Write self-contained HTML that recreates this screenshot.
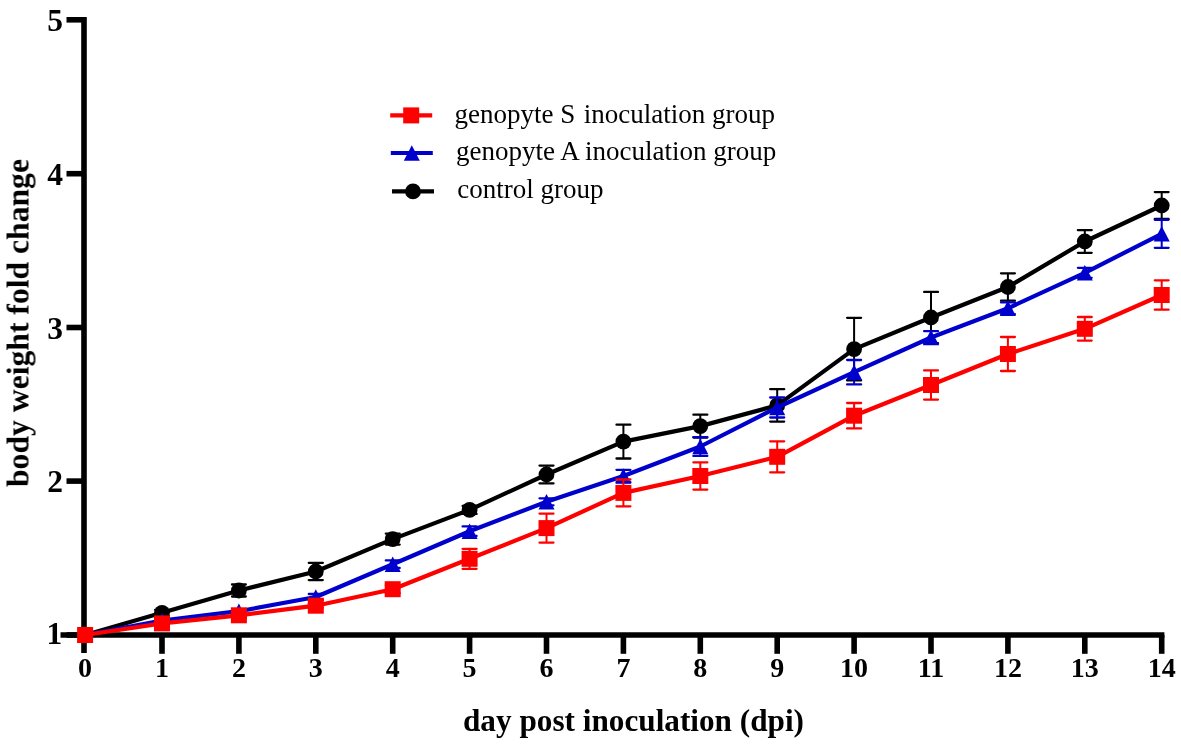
<!DOCTYPE html>
<html><head><meta charset="utf-8"><title>body weight fold change</title>
<style>
html,body{margin:0;padding:0;background:#fff;width:1181px;height:746px;overflow:hidden}
svg{display:block}
text{font-family:"Liberation Serif",serif}
.yl{font-weight:bold;font-size:31.5px}
.xl{font-weight:bold;font-size:28px}
.lg{font-size:27px}
.at{font-weight:bold;font-size:31.6px}
</style></head><body>
<svg width="1181" height="746" viewBox="0 0 1181 746">
<rect width="1181" height="746" fill="#fff"/>
<line x1="84" y1="17" x2="84" y2="653" stroke="#000" stroke-width="5.6"/>
<line x1="60.5" y1="635" x2="1164.4" y2="635" stroke="#000" stroke-width="5.6"/>
<line x1="66.5" y1="19.8" x2="84" y2="19.8" stroke="#000" stroke-width="5.6"/>
<line x1="66.5" y1="173.7" x2="84" y2="173.7" stroke="#000" stroke-width="5.6"/>
<line x1="66.5" y1="327.5" x2="84" y2="327.5" stroke="#000" stroke-width="5.6"/>
<line x1="66.5" y1="481.1" x2="84" y2="481.1" stroke="#000" stroke-width="5.6"/>
<line x1="66.5" y1="635" x2="84" y2="635" stroke="#000" stroke-width="5.6"/>
<line x1="162.0" y1="635" x2="162.0" y2="653.8" stroke="#000" stroke-width="5.6"/>
<line x1="238.9" y1="635" x2="238.9" y2="653.8" stroke="#000" stroke-width="5.6"/>
<line x1="315.8" y1="635" x2="315.8" y2="653.8" stroke="#000" stroke-width="5.6"/>
<line x1="392.7" y1="635" x2="392.7" y2="653.8" stroke="#000" stroke-width="5.6"/>
<line x1="469.6" y1="635" x2="469.6" y2="653.8" stroke="#000" stroke-width="5.6"/>
<line x1="546.5" y1="635" x2="546.5" y2="653.8" stroke="#000" stroke-width="5.6"/>
<line x1="623.4" y1="635" x2="623.4" y2="653.8" stroke="#000" stroke-width="5.6"/>
<line x1="700.3" y1="635" x2="700.3" y2="653.8" stroke="#000" stroke-width="5.6"/>
<line x1="777.2" y1="635" x2="777.2" y2="653.8" stroke="#000" stroke-width="5.6"/>
<line x1="854.1" y1="635" x2="854.1" y2="653.8" stroke="#000" stroke-width="5.6"/>
<line x1="931.0" y1="635" x2="931.0" y2="653.8" stroke="#000" stroke-width="5.6"/>
<line x1="1007.9" y1="635" x2="1007.9" y2="653.8" stroke="#000" stroke-width="5.6"/>
<line x1="1084.8" y1="635" x2="1084.8" y2="653.8" stroke="#000" stroke-width="5.6"/>
<line x1="1161.7" y1="635" x2="1161.7" y2="653.8" stroke="#000" stroke-width="5.6"/>
<line x1="162.0" y1="609.8" x2="162.0" y2="615.8" stroke="#000000" stroke-width="2.0"/>
<line x1="155.1" y1="609.8" x2="168.9" y2="609.8" stroke="#000000" stroke-width="2.3" stroke-linecap="round"/>
<line x1="155.1" y1="615.8" x2="168.9" y2="615.8" stroke="#000000" stroke-width="2.3" stroke-linecap="round"/>
<line x1="238.9" y1="584.5" x2="238.9" y2="596.5" stroke="#000000" stroke-width="2.0"/>
<line x1="232.0" y1="584.5" x2="245.8" y2="584.5" stroke="#000000" stroke-width="2.3" stroke-linecap="round"/>
<line x1="232.0" y1="596.5" x2="245.8" y2="596.5" stroke="#000000" stroke-width="2.3" stroke-linecap="round"/>
<line x1="315.8" y1="562.9" x2="315.8" y2="580.1" stroke="#000000" stroke-width="2.0"/>
<line x1="308.8" y1="562.9" x2="322.8" y2="562.9" stroke="#000000" stroke-width="2.3" stroke-linecap="round"/>
<line x1="308.8" y1="580.1" x2="322.8" y2="580.1" stroke="#000000" stroke-width="2.3" stroke-linecap="round"/>
<line x1="392.7" y1="533.6" x2="392.7" y2="544.6" stroke="#000000" stroke-width="2.0"/>
<line x1="385.8" y1="533.6" x2="399.7" y2="533.6" stroke="#000000" stroke-width="2.3" stroke-linecap="round"/>
<line x1="385.8" y1="544.6" x2="399.7" y2="544.6" stroke="#000000" stroke-width="2.3" stroke-linecap="round"/>
<line x1="469.6" y1="505.9" x2="469.6" y2="513.9" stroke="#000000" stroke-width="2.0"/>
<line x1="462.6" y1="505.9" x2="476.6" y2="505.9" stroke="#000000" stroke-width="2.3" stroke-linecap="round"/>
<line x1="462.6" y1="513.9" x2="476.6" y2="513.9" stroke="#000000" stroke-width="2.3" stroke-linecap="round"/>
<line x1="546.5" y1="465.6" x2="546.5" y2="483.4" stroke="#000000" stroke-width="2.0"/>
<line x1="539.5" y1="465.6" x2="553.5" y2="465.6" stroke="#000000" stroke-width="2.3" stroke-linecap="round"/>
<line x1="539.5" y1="483.4" x2="553.5" y2="483.4" stroke="#000000" stroke-width="2.3" stroke-linecap="round"/>
<line x1="623.4" y1="424.7" x2="623.4" y2="458.5" stroke="#000000" stroke-width="2.0"/>
<line x1="616.5" y1="424.7" x2="630.4" y2="424.7" stroke="#000000" stroke-width="2.3" stroke-linecap="round"/>
<line x1="616.5" y1="458.5" x2="630.4" y2="458.5" stroke="#000000" stroke-width="2.3" stroke-linecap="round"/>
<line x1="700.3" y1="414.7" x2="700.3" y2="437.5" stroke="#000000" stroke-width="2.0"/>
<line x1="693.4" y1="414.7" x2="707.3" y2="414.7" stroke="#000000" stroke-width="2.3" stroke-linecap="round"/>
<line x1="693.4" y1="437.5" x2="707.3" y2="437.5" stroke="#000000" stroke-width="2.3" stroke-linecap="round"/>
<line x1="777.2" y1="389.2" x2="777.2" y2="421.6" stroke="#000000" stroke-width="2.0"/>
<line x1="770.2" y1="389.2" x2="784.2" y2="389.2" stroke="#000000" stroke-width="2.3" stroke-linecap="round"/>
<line x1="770.2" y1="421.6" x2="784.2" y2="421.6" stroke="#000000" stroke-width="2.3" stroke-linecap="round"/>
<line x1="854.1" y1="317.8" x2="854.1" y2="380.4" stroke="#000000" stroke-width="2.0"/>
<line x1="847.1" y1="317.8" x2="861.1" y2="317.8" stroke="#000000" stroke-width="2.3" stroke-linecap="round"/>
<line x1="847.1" y1="380.4" x2="861.1" y2="380.4" stroke="#000000" stroke-width="2.3" stroke-linecap="round"/>
<line x1="931.0" y1="291.9" x2="931.0" y2="343.1" stroke="#000000" stroke-width="2.0"/>
<line x1="924.1" y1="291.9" x2="938.0" y2="291.9" stroke="#000000" stroke-width="2.3" stroke-linecap="round"/>
<line x1="924.1" y1="343.1" x2="938.0" y2="343.1" stroke="#000000" stroke-width="2.3" stroke-linecap="round"/>
<line x1="1007.9" y1="273.3" x2="1007.9" y2="300.7" stroke="#000000" stroke-width="2.0"/>
<line x1="1001.0" y1="273.3" x2="1014.9" y2="273.3" stroke="#000000" stroke-width="2.3" stroke-linecap="round"/>
<line x1="1001.0" y1="300.7" x2="1014.9" y2="300.7" stroke="#000000" stroke-width="2.3" stroke-linecap="round"/>
<line x1="1084.8" y1="230.2" x2="1084.8" y2="252.8" stroke="#000000" stroke-width="2.0"/>
<line x1="1077.9" y1="230.2" x2="1091.7" y2="230.2" stroke="#000000" stroke-width="2.3" stroke-linecap="round"/>
<line x1="1077.9" y1="252.8" x2="1091.7" y2="252.8" stroke="#000000" stroke-width="2.3" stroke-linecap="round"/>
<line x1="1161.7" y1="192.1" x2="1161.7" y2="218.9" stroke="#000000" stroke-width="2.0"/>
<line x1="1154.8" y1="192.1" x2="1168.6" y2="192.1" stroke="#000000" stroke-width="2.3" stroke-linecap="round"/>
<line x1="1154.8" y1="218.9" x2="1168.6" y2="218.9" stroke="#000000" stroke-width="2.3" stroke-linecap="round"/>
<polyline points="85.1,635.0 162.0,612.8 238.9,590.5 315.8,571.5 392.7,539.1 469.6,509.9 546.5,474.5 623.4,441.6 700.3,426.1 777.2,405.4 854.1,349.1 931.0,317.5 1007.9,287.0 1084.8,241.5 1161.7,205.5" fill="none" stroke="#000000" stroke-width="4.2" stroke-linejoin="round"/>
<circle cx="85.1" cy="635.0" r="7.9" fill="#000000"/>
<circle cx="162.0" cy="612.8" r="7.9" fill="#000000"/>
<circle cx="238.9" cy="590.5" r="7.9" fill="#000000"/>
<circle cx="315.8" cy="571.5" r="7.9" fill="#000000"/>
<circle cx="392.7" cy="539.1" r="7.9" fill="#000000"/>
<circle cx="469.6" cy="509.9" r="7.9" fill="#000000"/>
<circle cx="546.5" cy="474.5" r="7.9" fill="#000000"/>
<circle cx="623.4" cy="441.6" r="7.9" fill="#000000"/>
<circle cx="700.3" cy="426.1" r="7.9" fill="#000000"/>
<circle cx="777.2" cy="405.4" r="7.9" fill="#000000"/>
<circle cx="854.1" cy="349.1" r="7.9" fill="#000000"/>
<circle cx="931.0" cy="317.5" r="7.9" fill="#000000"/>
<circle cx="1007.9" cy="287.0" r="7.9" fill="#000000"/>
<circle cx="1084.8" cy="241.5" r="7.9" fill="#000000"/>
<circle cx="1161.7" cy="205.5" r="7.9" fill="#000000"/>
<line x1="162.0" y1="618.5" x2="162.0" y2="622.5" stroke="#0000CC" stroke-width="2.0"/>
<line x1="155.1" y1="618.5" x2="168.9" y2="618.5" stroke="#0000CC" stroke-width="2.3" stroke-linecap="round"/>
<line x1="155.1" y1="622.5" x2="168.9" y2="622.5" stroke="#0000CC" stroke-width="2.3" stroke-linecap="round"/>
<line x1="238.9" y1="609.2" x2="238.9" y2="613.2" stroke="#0000CC" stroke-width="2.0"/>
<line x1="232.0" y1="609.2" x2="245.8" y2="609.2" stroke="#0000CC" stroke-width="2.3" stroke-linecap="round"/>
<line x1="232.0" y1="613.2" x2="245.8" y2="613.2" stroke="#0000CC" stroke-width="2.3" stroke-linecap="round"/>
<line x1="315.8" y1="594.0" x2="315.8" y2="600.0" stroke="#0000CC" stroke-width="2.0"/>
<line x1="308.8" y1="594.0" x2="322.8" y2="594.0" stroke="#0000CC" stroke-width="2.3" stroke-linecap="round"/>
<line x1="308.8" y1="600.0" x2="322.8" y2="600.0" stroke="#0000CC" stroke-width="2.3" stroke-linecap="round"/>
<line x1="392.7" y1="560.4" x2="392.7" y2="568.0" stroke="#0000CC" stroke-width="2.0"/>
<line x1="385.8" y1="560.4" x2="399.7" y2="560.4" stroke="#0000CC" stroke-width="2.3" stroke-linecap="round"/>
<line x1="385.8" y1="568.0" x2="399.7" y2="568.0" stroke="#0000CC" stroke-width="2.3" stroke-linecap="round"/>
<line x1="469.6" y1="526.4" x2="469.6" y2="536.0" stroke="#0000CC" stroke-width="2.0"/>
<line x1="462.6" y1="526.4" x2="476.6" y2="526.4" stroke="#0000CC" stroke-width="2.3" stroke-linecap="round"/>
<line x1="462.6" y1="536.0" x2="476.6" y2="536.0" stroke="#0000CC" stroke-width="2.3" stroke-linecap="round"/>
<line x1="546.5" y1="498.3" x2="546.5" y2="505.3" stroke="#0000CC" stroke-width="2.0"/>
<line x1="539.5" y1="498.3" x2="553.5" y2="498.3" stroke="#0000CC" stroke-width="2.3" stroke-linecap="round"/>
<line x1="539.5" y1="505.3" x2="553.5" y2="505.3" stroke="#0000CC" stroke-width="2.3" stroke-linecap="round"/>
<line x1="623.4" y1="469.8" x2="623.4" y2="482.2" stroke="#0000CC" stroke-width="2.0"/>
<line x1="616.5" y1="469.8" x2="630.4" y2="469.8" stroke="#0000CC" stroke-width="2.3" stroke-linecap="round"/>
<line x1="616.5" y1="482.2" x2="630.4" y2="482.2" stroke="#0000CC" stroke-width="2.3" stroke-linecap="round"/>
<line x1="700.3" y1="437.1" x2="700.3" y2="455.9" stroke="#0000CC" stroke-width="2.0"/>
<line x1="693.4" y1="437.1" x2="707.3" y2="437.1" stroke="#0000CC" stroke-width="2.3" stroke-linecap="round"/>
<line x1="693.4" y1="455.9" x2="707.3" y2="455.9" stroke="#0000CC" stroke-width="2.3" stroke-linecap="round"/>
<line x1="777.2" y1="397.5" x2="777.2" y2="417.5" stroke="#0000CC" stroke-width="2.0"/>
<line x1="770.2" y1="397.5" x2="784.2" y2="397.5" stroke="#0000CC" stroke-width="2.3" stroke-linecap="round"/>
<line x1="770.2" y1="417.5" x2="784.2" y2="417.5" stroke="#0000CC" stroke-width="2.3" stroke-linecap="round"/>
<line x1="854.1" y1="360.0" x2="854.1" y2="384.4" stroke="#0000CC" stroke-width="2.0"/>
<line x1="847.1" y1="360.0" x2="861.1" y2="360.0" stroke="#0000CC" stroke-width="2.3" stroke-linecap="round"/>
<line x1="847.1" y1="384.4" x2="861.1" y2="384.4" stroke="#0000CC" stroke-width="2.3" stroke-linecap="round"/>
<line x1="931.0" y1="331.2" x2="931.0" y2="343.8" stroke="#0000CC" stroke-width="2.0"/>
<line x1="924.1" y1="331.2" x2="938.0" y2="331.2" stroke="#0000CC" stroke-width="2.3" stroke-linecap="round"/>
<line x1="924.1" y1="343.8" x2="938.0" y2="343.8" stroke="#0000CC" stroke-width="2.3" stroke-linecap="round"/>
<line x1="1007.9" y1="302.4" x2="1007.9" y2="314.2" stroke="#0000CC" stroke-width="2.0"/>
<line x1="1001.0" y1="302.4" x2="1014.9" y2="302.4" stroke="#0000CC" stroke-width="2.3" stroke-linecap="round"/>
<line x1="1001.0" y1="314.2" x2="1014.9" y2="314.2" stroke="#0000CC" stroke-width="2.3" stroke-linecap="round"/>
<line x1="1084.8" y1="267.8" x2="1084.8" y2="277.8" stroke="#0000CC" stroke-width="2.0"/>
<line x1="1077.9" y1="267.8" x2="1091.7" y2="267.8" stroke="#0000CC" stroke-width="2.3" stroke-linecap="round"/>
<line x1="1077.9" y1="277.8" x2="1091.7" y2="277.8" stroke="#0000CC" stroke-width="2.3" stroke-linecap="round"/>
<line x1="1161.7" y1="219.8" x2="1161.7" y2="247.8" stroke="#0000CC" stroke-width="2.0"/>
<line x1="1154.8" y1="219.8" x2="1168.6" y2="219.8" stroke="#0000CC" stroke-width="2.3" stroke-linecap="round"/>
<line x1="1154.8" y1="247.8" x2="1168.6" y2="247.8" stroke="#0000CC" stroke-width="2.3" stroke-linecap="round"/>
<polyline points="85.1,635.0 162.0,620.5 238.9,611.2 315.8,597.0 392.7,564.2 469.6,531.2 546.5,501.8 623.4,476.0 700.3,446.5 777.2,407.5 854.1,372.2 931.0,337.5 1007.9,308.3 1084.8,272.8 1161.7,233.8" fill="none" stroke="#0000CC" stroke-width="4.2" stroke-linejoin="round"/>
<polygon points="85.1,627.2 93.1,642.8 77.1,642.8" fill="#0000CC"/>
<polygon points="162.0,612.7 170.0,628.3 154.0,628.3" fill="#0000CC"/>
<polygon points="238.9,603.4 246.9,619.0 230.9,619.0" fill="#0000CC"/>
<polygon points="315.8,589.2 323.8,604.8 307.8,604.8" fill="#0000CC"/>
<polygon points="392.7,556.4 400.7,572.0 384.7,572.0" fill="#0000CC"/>
<polygon points="469.6,523.4 477.6,539.0 461.6,539.0" fill="#0000CC"/>
<polygon points="546.5,494.0 554.5,509.6 538.5,509.6" fill="#0000CC"/>
<polygon points="623.4,468.2 631.4,483.8 615.4,483.8" fill="#0000CC"/>
<polygon points="700.3,438.7 708.3,454.3 692.3,454.3" fill="#0000CC"/>
<polygon points="777.2,399.7 785.2,415.3 769.2,415.3" fill="#0000CC"/>
<polygon points="854.1,364.4 862.1,380.0 846.1,380.0" fill="#0000CC"/>
<polygon points="931.0,329.7 939.0,345.3 923.0,345.3" fill="#0000CC"/>
<polygon points="1007.9,300.5 1015.9,316.1 999.9,316.1" fill="#0000CC"/>
<polygon points="1084.8,265.0 1092.8,280.6 1076.8,280.6" fill="#0000CC"/>
<polygon points="1161.7,226.0 1169.7,241.6 1153.7,241.6" fill="#0000CC"/>
<line x1="162.0" y1="621.4" x2="162.0" y2="625.4" stroke="#FF0000" stroke-width="2.0"/>
<line x1="155.1" y1="621.4" x2="168.9" y2="621.4" stroke="#FF0000" stroke-width="2.3" stroke-linecap="round"/>
<line x1="155.1" y1="625.4" x2="168.9" y2="625.4" stroke="#FF0000" stroke-width="2.3" stroke-linecap="round"/>
<line x1="238.9" y1="613.3" x2="238.9" y2="617.3" stroke="#FF0000" stroke-width="2.0"/>
<line x1="232.0" y1="613.3" x2="245.8" y2="613.3" stroke="#FF0000" stroke-width="2.3" stroke-linecap="round"/>
<line x1="232.0" y1="617.3" x2="245.8" y2="617.3" stroke="#FF0000" stroke-width="2.3" stroke-linecap="round"/>
<line x1="315.8" y1="603.7" x2="315.8" y2="607.7" stroke="#FF0000" stroke-width="2.0"/>
<line x1="308.8" y1="603.7" x2="322.8" y2="603.7" stroke="#FF0000" stroke-width="2.3" stroke-linecap="round"/>
<line x1="308.8" y1="607.7" x2="322.8" y2="607.7" stroke="#FF0000" stroke-width="2.3" stroke-linecap="round"/>
<line x1="392.7" y1="585.2" x2="392.7" y2="593.2" stroke="#FF0000" stroke-width="2.0"/>
<line x1="385.8" y1="585.2" x2="399.7" y2="585.2" stroke="#FF0000" stroke-width="2.3" stroke-linecap="round"/>
<line x1="385.8" y1="593.2" x2="399.7" y2="593.2" stroke="#FF0000" stroke-width="2.3" stroke-linecap="round"/>
<line x1="469.6" y1="548.8" x2="469.6" y2="568.8" stroke="#FF0000" stroke-width="2.0"/>
<line x1="462.6" y1="548.8" x2="476.6" y2="548.8" stroke="#FF0000" stroke-width="2.3" stroke-linecap="round"/>
<line x1="462.6" y1="568.8" x2="476.6" y2="568.8" stroke="#FF0000" stroke-width="2.3" stroke-linecap="round"/>
<line x1="546.5" y1="513.6" x2="546.5" y2="542.6" stroke="#FF0000" stroke-width="2.0"/>
<line x1="539.5" y1="513.6" x2="553.5" y2="513.6" stroke="#FF0000" stroke-width="2.3" stroke-linecap="round"/>
<line x1="539.5" y1="542.6" x2="553.5" y2="542.6" stroke="#FF0000" stroke-width="2.3" stroke-linecap="round"/>
<line x1="623.4" y1="479.5" x2="623.4" y2="506.3" stroke="#FF0000" stroke-width="2.0"/>
<line x1="616.5" y1="479.5" x2="630.4" y2="479.5" stroke="#FF0000" stroke-width="2.3" stroke-linecap="round"/>
<line x1="616.5" y1="506.3" x2="630.4" y2="506.3" stroke="#FF0000" stroke-width="2.3" stroke-linecap="round"/>
<line x1="700.3" y1="462.4" x2="700.3" y2="489.6" stroke="#FF0000" stroke-width="2.0"/>
<line x1="693.4" y1="462.4" x2="707.3" y2="462.4" stroke="#FF0000" stroke-width="2.3" stroke-linecap="round"/>
<line x1="693.4" y1="489.6" x2="707.3" y2="489.6" stroke="#FF0000" stroke-width="2.3" stroke-linecap="round"/>
<line x1="777.2" y1="441.3" x2="777.2" y2="472.3" stroke="#FF0000" stroke-width="2.0"/>
<line x1="770.2" y1="441.3" x2="784.2" y2="441.3" stroke="#FF0000" stroke-width="2.3" stroke-linecap="round"/>
<line x1="770.2" y1="472.3" x2="784.2" y2="472.3" stroke="#FF0000" stroke-width="2.3" stroke-linecap="round"/>
<line x1="854.1" y1="403.0" x2="854.1" y2="428.4" stroke="#FF0000" stroke-width="2.0"/>
<line x1="847.1" y1="403.0" x2="861.1" y2="403.0" stroke="#FF0000" stroke-width="2.3" stroke-linecap="round"/>
<line x1="847.1" y1="428.4" x2="861.1" y2="428.4" stroke="#FF0000" stroke-width="2.3" stroke-linecap="round"/>
<line x1="931.0" y1="370.4" x2="931.0" y2="399.6" stroke="#FF0000" stroke-width="2.0"/>
<line x1="924.1" y1="370.4" x2="938.0" y2="370.4" stroke="#FF0000" stroke-width="2.3" stroke-linecap="round"/>
<line x1="924.1" y1="399.6" x2="938.0" y2="399.6" stroke="#FF0000" stroke-width="2.3" stroke-linecap="round"/>
<line x1="1007.9" y1="337.0" x2="1007.9" y2="371.0" stroke="#FF0000" stroke-width="2.0"/>
<line x1="1001.0" y1="337.0" x2="1014.9" y2="337.0" stroke="#FF0000" stroke-width="2.3" stroke-linecap="round"/>
<line x1="1001.0" y1="371.0" x2="1014.9" y2="371.0" stroke="#FF0000" stroke-width="2.3" stroke-linecap="round"/>
<line x1="1084.8" y1="317.0" x2="1084.8" y2="340.6" stroke="#FF0000" stroke-width="2.0"/>
<line x1="1077.9" y1="317.0" x2="1091.7" y2="317.0" stroke="#FF0000" stroke-width="2.3" stroke-linecap="round"/>
<line x1="1077.9" y1="340.6" x2="1091.7" y2="340.6" stroke="#FF0000" stroke-width="2.3" stroke-linecap="round"/>
<line x1="1161.7" y1="280.3" x2="1161.7" y2="309.7" stroke="#FF0000" stroke-width="2.0"/>
<line x1="1154.8" y1="280.3" x2="1168.6" y2="280.3" stroke="#FF0000" stroke-width="2.3" stroke-linecap="round"/>
<line x1="1154.8" y1="309.7" x2="1168.6" y2="309.7" stroke="#FF0000" stroke-width="2.3" stroke-linecap="round"/>
<polyline points="85.1,635.0 162.0,623.4 238.9,615.3 315.8,605.7 392.7,589.2 469.6,558.8 546.5,528.1 623.4,492.9 700.3,476.0 777.2,456.8 854.1,415.7 931.0,385.0 1007.9,354.0 1084.8,328.8 1161.7,295.0" fill="none" stroke="#FF0000" stroke-width="4.2" stroke-linejoin="round"/>
<rect x="77.1" y="627.0" width="16" height="16" fill="#FF0000"/>
<rect x="154.0" y="615.4" width="16" height="16" fill="#FF0000"/>
<rect x="230.9" y="607.3" width="16" height="16" fill="#FF0000"/>
<rect x="307.8" y="597.7" width="16" height="16" fill="#FF0000"/>
<rect x="384.7" y="581.2" width="16" height="16" fill="#FF0000"/>
<rect x="461.6" y="550.8" width="16" height="16" fill="#FF0000"/>
<rect x="538.5" y="520.1" width="16" height="16" fill="#FF0000"/>
<rect x="615.4" y="484.9" width="16" height="16" fill="#FF0000"/>
<rect x="692.3" y="468.0" width="16" height="16" fill="#FF0000"/>
<rect x="769.2" y="448.8" width="16" height="16" fill="#FF0000"/>
<rect x="846.1" y="407.7" width="16" height="16" fill="#FF0000"/>
<rect x="923.0" y="377.0" width="16" height="16" fill="#FF0000"/>
<rect x="999.9" y="346.0" width="16" height="16" fill="#FF0000"/>
<rect x="1076.8" y="320.8" width="16" height="16" fill="#FF0000"/>
<rect x="1153.7" y="287.0" width="16" height="16" fill="#FF0000"/>
<line x1="390.2" y1="115.4" x2="432.2" y2="115.4" stroke="#FF0000" stroke-width="4.2"/>
<rect x="403.2" y="107.4" width="16" height="16" fill="#FF0000"/>
<line x1="390.8" y1="153.0" x2="432.8" y2="153.0" stroke="#0000CC" stroke-width="4.2"/>
<polygon points="411.8,145.2 419.8,160.8 403.8,160.8" fill="#0000CC"/>
<line x1="392.0" y1="191.4" x2="434.0" y2="191.4" stroke="#000000" stroke-width="4.2"/>
<circle cx="413.0" cy="191.4" r="7.9" fill="#000000"/>
<g opacity="0.999"><text x="63.0" y="31.0" text-anchor="end" class="yl">5</text>
<text x="63.0" y="184.9" text-anchor="end" class="yl">4</text>
<text x="63.0" y="338.7" text-anchor="end" class="yl">3</text>
<text x="63.0" y="492.3" text-anchor="end" class="yl">2</text>
<text x="62.2" y="643.6" text-anchor="end" class="yl">1</text>
<text x="85.1" y="677" text-anchor="middle" class="xl">0</text>
<text x="162.0" y="677" text-anchor="middle" class="xl">1</text>
<text x="238.9" y="677" text-anchor="middle" class="xl">2</text>
<text x="315.8" y="677" text-anchor="middle" class="xl">3</text>
<text x="392.7" y="677" text-anchor="middle" class="xl">4</text>
<text x="469.6" y="677" text-anchor="middle" class="xl">5</text>
<text x="546.5" y="677" text-anchor="middle" class="xl">6</text>
<text x="623.4" y="677" text-anchor="middle" class="xl">7</text>
<text x="700.3" y="677" text-anchor="middle" class="xl">8</text>
<text x="777.2" y="677" text-anchor="middle" class="xl">9</text>
<text x="854.1" y="677" text-anchor="middle" class="xl">10</text>
<text x="931.0" y="677" text-anchor="middle" class="xl">11</text>
<text x="1007.9" y="677" text-anchor="middle" class="xl">12</text>
<text x="1084.8" y="677" text-anchor="middle" class="xl">13</text>
<text x="1161.7" y="677" text-anchor="middle" class="xl">14</text>
<text x="454.6" y="122.6" class="lg">genopyte S<tspan dx="1.6"> inoculation group</tspan></text>
<text x="456" y="160.4" class="lg">genopyte A inoculation group</text>
<text x="457.3" y="198.2" class="lg">control group</text>
<text x="463" y="731" class="at" textLength="341" lengthAdjust="spacingAndGlyphs">day post inoculation (dpi)</text>
<text transform="translate(28.5,487) rotate(-90)" x="0" y="0" class="at" textLength="328" lengthAdjust="spacingAndGlyphs">body weight fold change</text></g>
</svg>
</body></html>
